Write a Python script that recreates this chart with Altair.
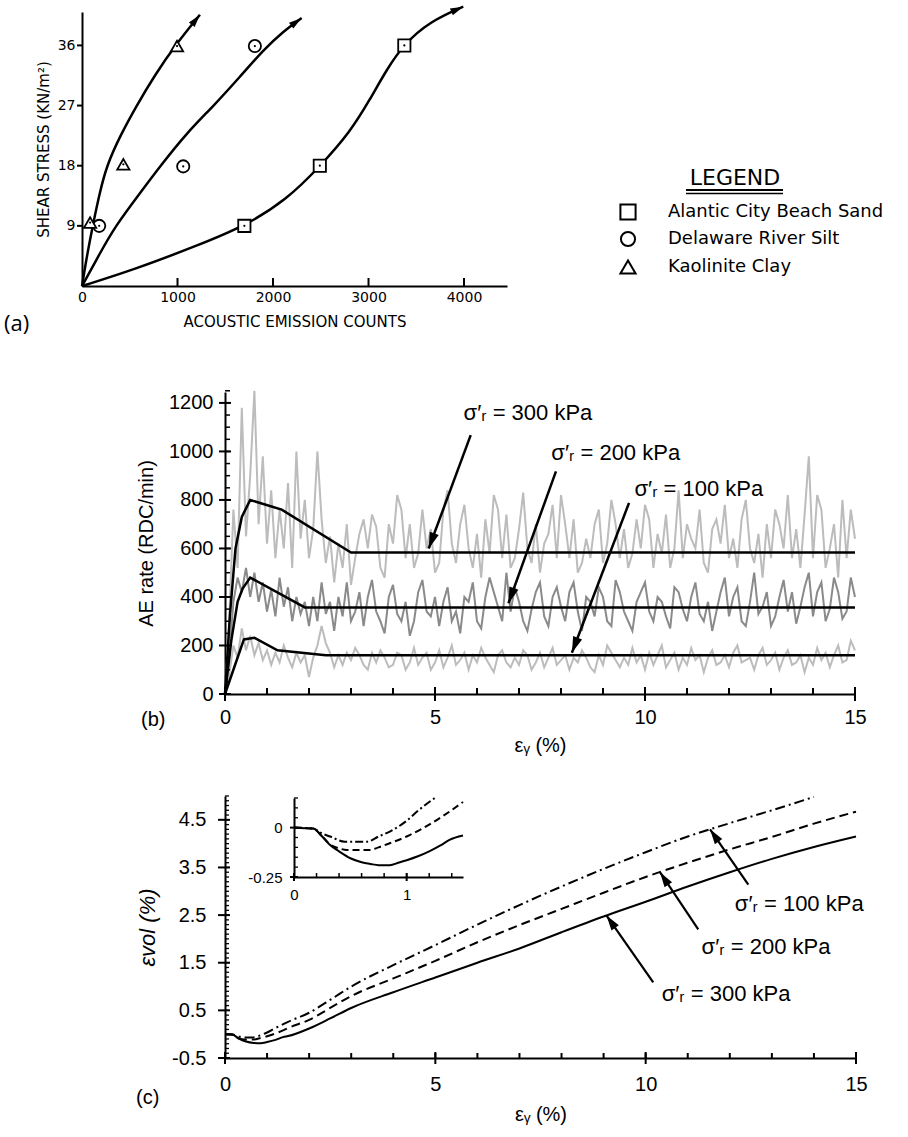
import math
import pandas as pd
import altair as alt

W, H = 908, 1137
FA = "DejaVu Sans"
FB = "Liberation Sans, Arial, Helvetica, sans-serif"

# ---------------- Panel (a) data ----------------
soils = ["Alantic City Beach Sand", "Delaware River Silt", "Kaolinite Clay"]
sand_pts_x = [1700, 2490, 3375]
sand_pts_y = [9, 18, 36]
silt_pts_x = [180, 1060, 1810]
silt_pts_y = [9, 17.9, 35.9]
clay_pts_x = [85, 433, 995]
clay_pts_y = [9.5, 18.2, 35.9]

sand_curve_x = [0, 537, 1235, 1707, 2143, 2492, 2806, 3015, 3190, 3372, 3643, 3992]
sand_curve_y = [0, 2.4, 6.2, 9.0, 12.9, 17.9, 23.0, 27.9, 32.4, 36.2, 39.6, 41.8]
silt_curve_x = [0, 188, 346, 607, 817, 1096, 1375, 1654, 1898, 2108, 2300]
silt_curve_y = [0, 4.9, 8.9, 13.9, 17.9, 22.9, 26.9, 31.3, 35.3, 38.1, 40.1]
clay_curve_x = [0, 56, 125, 185, 258, 400, 572, 760, 975, 1235]
clay_curve_y = [0, 4.9, 9.9, 13.9, 18.0, 22.5, 27.0, 31.5, 36.0, 40.6]

a_xticks = [0, 1000, 2000, 3000, 4000]
a_yticks = [9, 18, 27, 36]

# ---------------- Panel (b) data ----------------
b_x = [round(i * 0.1, 1) for i in range(151)]
b_300 = [0, 300, 760, 520, 1180, 650, 900, 1250, 700, 980,
         620, 840, 560, 760, 600, 870, 520, 1000, 640, 800,
         560, 680, 1000, 720, 540, 650, 460, 620, 520, 700,
         450, 560, 660, 720, 600, 740, 690, 520, 480, 700,
         620, 820, 760, 560, 700, 520, 580, 760, 600, 680,
         500, 540, 760, 840, 620, 540, 700, 780, 600, 520,
         660, 480, 720, 580, 820, 760, 560, 740, 520, 560,
         680, 830, 600, 540, 700, 500, 620, 660, 780, 560,
         820, 700, 560, 720, 500, 540, 640, 560, 700, 760,
         540, 620, 800, 700, 560, 680, 520, 580, 720, 600,
         780, 720, 520, 660, 580, 740, 520, 600, 840, 560,
         700, 640, 600, 760, 540, 500, 680, 720, 620, 780,
         560, 640, 520, 720, 800, 600, 540, 660, 480, 700,
         560, 760, 700, 600, 820, 560, 680, 520, 740, 980,
         560, 820, 760, 520, 600, 700, 480, 800, 560, 760,
         640]
b_200 = [0, 150, 380, 480, 420, 520, 400, 500, 380, 460,
         340, 430, 320, 480, 360, 440, 300, 400, 330, 380,
         280, 400, 300, 460, 330, 380, 260, 400, 320, 460,
         300, 340, 420, 280, 400, 470, 340, 300, 250, 400,
         450, 330, 300, 380, 240, 300, 420, 470, 340, 320,
         400, 280, 380, 440, 300, 340, 250, 400, 380, 460,
         300, 270, 400, 480, 420, 360, 300, 500, 340, 440,
         380, 300, 260, 350, 420, 460, 320, 280, 400, 440,
         360, 300, 420, 460, 340, 260, 400, 380, 320, 440,
         400, 300, 280, 470, 420, 340, 300, 260, 380, 420,
         460, 340, 300, 400, 380, 320, 270, 440, 420, 350,
         300, 400, 460, 330, 300, 380, 260, 340, 420, 480,
         320, 400, 440, 300, 280, 380, 500, 330, 360, 420,
         280, 320, 400, 470, 340, 420, 290, 360, 440, 500,
         320, 420, 460, 300, 350, 480, 420, 310, 340, 480,
         400]
b_100 = [0, 80, 200, 150, 270, 180, 240, 160, 210, 140,
         180, 120, 170, 130, 200, 150, 110, 170, 130, 160,
         70, 150, 200, 280, 210, 170, 110, 160, 120, 170,
         140, 190, 160, 120, 100, 170, 130, 180, 150, 110,
         120, 170, 160, 100, 130, 190, 120, 150, 170, 100,
         130, 180, 110, 150, 200, 120, 140, 170, 100, 160,
         130, 190, 150, 120, 90, 160, 180, 130, 110, 150,
         120, 180, 160, 100, 130, 170, 110, 150, 190, 120,
         140, 160, 100, 150, 130, 180, 150, 110, 90, 160,
         120, 200, 170, 140, 110, 150, 120, 190, 130, 160,
         100, 170, 120, 160, 200, 110, 140, 170, 100, 150,
         120, 190, 140, 160, 90, 150, 180, 120, 130, 160,
         110, 170, 200, 130, 140, 150, 100, 160, 190, 120,
         140, 170, 100, 150, 180, 120, 130, 160, 90, 150,
         120, 190, 140, 170, 110, 160, 200, 130, 140, 220,
         180]
fit300_x = [0, 0.12, 0.25, 0.4, 0.6, 1.35, 3.0, 15]
fit300_y = [0, 330, 600, 730, 800, 760, 583, 583]
fit200_x = [0, 0.15, 0.3, 0.42, 0.6, 1.9, 15]
fit200_y = [0, 220, 380, 435, 480, 357, 357]
fit100_x = [0, 0.2, 0.45, 0.7, 1.25, 2.4, 15]
fit100_y = [0, 100, 225, 232, 180, 160, 160]

b_labels = ["σ′ᵣ = 300 kPa", "σ′ᵣ = 200 kPa", "σ′ᵣ = 100 kPa"]
b_lab_x = [5.68, 7.77, 9.75]
b_lab_y = [1160, 995, 844]
b_arr_x0 = [5.85, 7.88, 9.62]
b_arr_y0 = [1067, 918, 788]
b_arr_x1 = [4.85, 6.75, 8.26]
b_arr_y1 = [600, 374, 170]

b_xticks = [0, 5, 10, 15]
b_xminor = list(range(0, 16))
b_yticks = [0, 200, 400, 600, 800, 1000, 1200]
b_yminor = list(range(0, 1251, 50))

# ---------------- Panel (c) data ----------------
c300_x = [0, 0.17, 0.32, 0.5, 0.68, 0.85, 1.0, 1.2, 1.38, 1.5, 2, 2.5, 3, 4, 5, 6, 7, 8, 9, 10, 11, 12, 13, 14, 15]
c300_y = [0, -0.005, -0.088, -0.155, -0.184, -0.19, -0.165, -0.12, -0.062, -0.04, 0.12, 0.33, 0.55, 0.88, 1.19,
          1.5, 1.8, 2.14, 2.47, 2.78, 3.1, 3.4, 3.68, 3.93, 4.15]
c200_x = [0, 0.17, 0.32, 0.47, 0.675, 0.85, 1.0, 1.2, 1.38, 1.5, 2, 2.5, 3, 4, 5, 6, 7, 8, 9, 10, 11, 12, 13, 14, 15]
c200_y = [0, -0.005, -0.085, -0.113, -0.113, -0.079, -0.045, 0.015, 0.081, 0.13, 0.3, 0.55, 0.8, 1.17, 1.54,
          1.93, 2.29, 2.63, 2.97, 3.3, 3.6, 3.88, 4.14, 4.42, 4.67]
c100_x = [0, 0.17, 0.32, 0.45, 0.65, 0.85, 1.0, 1.2, 1.5, 2, 2.5, 3, 4, 5, 6, 7, 8, 9, 10, 11, 12, 13, 14]
c100_y = [0, -0.005, -0.045, -0.071, -0.071, -0.02, 0.035, 0.13, 0.26, 0.45, 0.72, 1.0, 1.45, 1.87, 2.3,
          2.71, 3.1, 3.47, 3.82, 4.15, 4.43, 4.7, 4.98]

c_labels = ["σ′ᵣ = 300 kPa", "σ′ᵣ = 200 kPa", "σ′ᵣ = 100 kPa"]
c_lab_x = [10.38, 11.33, 12.12]
c_lab_y = [0.85, 1.82, 2.74]
c_arr_x0 = [10.18, 11.25, 12.44]
c_arr_y0 = [1.09, 2.2, 3.14]
c_arr_x1 = [9.07, 10.34, 11.53]
c_arr_y1 = [2.49, 3.40, 4.30]

c_xticks = [0, 5, 10, 15]
c_xminor = list(range(0, 16))
c_yticks = [-0.5, 0.5, 1.5, 2.5, 3.5, 4.5]
c_yminor = [round(-0.5 + 0.1 * i, 1) for i in range(56)]

# inset
i300_x = [0, 0.17, 0.25, 0.32, 0.4, 0.5, 0.6, 0.68, 0.75, 0.85, 0.93, 1.0, 1.1, 1.2, 1.3, 1.38, 1.5]
i300_y = [0, -0.005, -0.045, -0.088, -0.12, -0.155, -0.175, -0.184, -0.19, -0.19, -0.177, -0.165, -0.145,
          -0.12, -0.09, -0.062, -0.04]
i200_x = [0, 0.17, 0.25, 0.32, 0.4, 0.47, 0.675, 0.75, 0.85, 1.0, 1.2, 1.38, 1.5]
i200_y = [0, -0.005, -0.045, -0.085, -0.105, -0.113, -0.113, -0.1, -0.079, -0.045, 0.015, 0.081, 0.13]
i100_x = [0, 0.17, 0.25, 0.32, 0.45, 0.65, 0.75, 0.85, 1.0, 1.1, 1.2, 1.25]
i100_y = [0, -0.005, -0.03, -0.045, -0.071, -0.071, -0.045, -0.02, 0.035, 0.085, 0.13, 0.15]
i_xticks = [0, 1]
i_xminor = [0, 0.2, 0.4, 0.6, 0.8, 1.0, 1.2, 1.4]
i_yticks = [-0.25, 0]
i_yminor = [-0.25, -0.2, -0.15, -0.1, -0.05, 0, 0.05, 0.1, 0.15]

# ---------------- layout (pixel boxes of each plot area) ----------------
A_XD, A_XR = [0, 4450], [82, 507]
A_YD, A_YR = [0, 41], [286, 12]
B_XD, B_XR = [0, 15], [225, 855]
B_YD, B_YR = [0, 1245], [694, 392]
C_XD, C_XR = [0, 15], [225, 856]
C_YD, C_YR = [-0.5, 5.0], [1058, 796]
I_XD, I_XR = [0, 1.5], [294, 463]
I_YD, I_YR = [-0.25, 0.15], [877, 798]


def sc(d, r):
    return alt.Scale(domain=d, range=r, nice=False, zero=False)


def inv(p, d, r):
    # pixel -> data value for a linear scale with domain d and range r
    return d[0] + (p - r[0]) / (r[1] - r[0]) * (d[1] - d[0]) + 0.0


def ax(**kw):
    base = dict(grid=False, domainColor="black", tickColor="black", labelColor="black",
                titleColor="black", titleFontWeight="normal", labelFlush=False, labelOverlap=False,
                tickOpacity=0)
    base.update(kw)
    return alt.Axis(**base)


def axis_x(vals, d, r, axis):
    return alt.Chart(pd.DataFrame({"v": vals})).mark_point(opacity=0).encode(
        x=alt.X("v:Q", scale=sc(d, r), axis=axis))


def axis_y(vals, d, r, axis):
    return alt.Chart(pd.DataFrame({"v": vals})).mark_point(opacity=0).encode(
        y=alt.Y("v:Q", scale=sc(d, r), axis=axis))


def XY(xd, xr, yd, yr, xf="x", yf="y"):
    return dict(x=alt.X(f"{xf}:Q", scale=sc(xd, xr), axis=None),
                y=alt.Y(f"{yf}:Q", scale=sc(yd, yr), axis=None))


def tick_rects(vals, box, orient, p_anchor, a, b, w=2):
    """Tick marks as thin filled rectangles straddling an axis line.
    orient 'x': ticks at x=vals from pixel p_anchor+a to p_anchor+b (y pixels).
    orient 'y': ticks at y=vals from pixel p_anchor+a to p_anchor+b (x pixels)."""
    xd, xr, yd, yr = box
    rows = []
    if orient == "x":
        hw = (w / 2) * (xd[1] - xd[0]) / (xr[1] - xr[0])
        ya, yb = inv(p_anchor + a, yd, yr), inv(p_anchor + b, yd, yr)
        for v in vals:
            rows.append({"x0": v - hw, "x1": v + hw, "y0": ya, "y1": yb})
    else:
        hw = (w / 2) * (yd[1] - yd[0]) / abs(yr[1] - yr[0])
        xa, xb = inv(p_anchor + a, xd, xr), inv(p_anchor + b, xd, xr)
        for v in vals:
            rows.append({"x0": xa, "x1": xb, "y0": v - hw, "y1": v + hw})
    return alt.Chart(pd.DataFrame(rows)).mark_rect(color="black", opacity=1).encode(
        x2="x1:Q", y2="y1:Q", **XY(*box, xf="x0", yf="y0"))


def line(xs, ys, box, **mk):
    df = pd.DataFrame({"x": xs, "y": ys, "o": list(range(len(xs)))})
    return alt.Chart(df).mark_line(**mk).encode(order="o:Q", **XY(*box))


def heads(x0, y0, x1, y1, box, length, wr=0.33):
    xd, xr, yd, yr = box
    kx = (xr[1] - xr[0]) / (xd[1] - xd[0])
    ky = (yr[0] - yr[1]) / (yd[1] - yd[0])
    ang = [math.degrees(math.atan2((b - a) * kx, (d - c) * ky)) % 360
           for a, b, c, d in zip(x0, x1, y0, y1)]
    df = pd.DataFrame({"x1": x1, "y1": y1, "ang": ang})
    return alt.Chart(df).mark_point(shape=f"M0,0L{wr},1L-{wr},1Z", size=4 * length ** 2,
                                    filled=True, color="black", opacity=1).encode(
        angle=alt.Angle("ang:Q", scale=None), **XY(*box, xf="x1", yf="y1"))


def arrows(x0, y0, x1, y1, box, length, wr=0.33, sw=2.5):
    df = pd.DataFrame({"x0": x0, "y0": y0, "x1": x1, "y1": y1})
    shaft = alt.Chart(df).mark_rule(color="black", strokeWidth=sw).encode(
        x2="x1:Q", y2="y1:Q", **XY(*box, xf="x0", yf="y0"))
    return [shaft, heads(x0, y0, x1, y1, box, length, wr)]


def text_at(txt, x, y, size, font, align="left", **kw):
    return alt.Chart(pd.DataFrame({"t": [txt]})).mark_text(
        align=align, baseline="middle", fontSize=size, font=font, color="black", **kw).encode(
        x=alt.value(x), y=alt.value(y), text="t:N")


A = (A_XD, A_XR, A_YD, A_YR)
B = (B_XD, B_XR, B_YD, B_YR)
C = (C_XD, C_XR, C_YD, C_YR)
I = (I_XD, I_XR, I_YD, I_YR)

layers = []

# ---------- axes (domain, labels, titles) ----------
layers += [
    axis_x(a_xticks, A_XD, A_XR, ax(orient="bottom", offset=A_YR[0] - H, values=a_xticks, ticks=False,
                                    domainWidth=2, labelFont=FA, labelFontSize=14, labelPadding=4, format="d",
                                    title="ACOUSTIC EMISSION COUNTS", titleFont=FA, titleFontSize=15,
                                    titlePadding=10)),
    axis_y(a_yticks, A_YD, A_YR, ax(orient="left", offset=-A_XR[0], values=a_yticks, tickSize=5,
                                    domainWidth=2, labelFont=FA, labelFontSize=14, labelPadding=2,
                                    title="SHEAR STRESS (KN/m²)", titleFont=FA, titleFontSize=15,
                                    titlePadding=6)),
    axis_x(b_xticks, B_XD, B_XR, ax(orient="bottom", offset=B_YR[0] - H, values=b_xticks, tickSize=7,
                                    domainWidth=2, labelFont=FB, labelFontSize=20, labelPadding=6,
                                    format="d", title="εᵧ (%)", titleFont=FB, titleFontSize=20,
                                    titlePadding=8)),
    axis_y(b_yticks, B_YD, B_YR, ax(orient="left", offset=-B_XR[0], values=b_yticks, tickSize=6,
                                    domainWidth=2, labelFont=FB, labelFontSize=20, labelPadding=6, format="d",
                                    title="AE rate (RDC/min)", titleFont=FB, titleFontSize=20,
                                    titlePadding=12)),
    axis_x(c_xticks, C_XD, C_XR, ax(orient="bottom", offset=C_YR[0] - H, values=c_xticks, tickSize=6,
                                    domainWidth=2, labelFont=FB, labelFontSize=20, labelPadding=10,
                                    format="d", title="εᵧ (%)", titleFont=FB, titleFontSize=20,
                                    titlePadding=10)),
    axis_y(c_yticks, C_YD, C_YR, ax(orient="left", offset=-C_XR[0], values=c_yticks, tickSize=7,
                                    domainWidth=2, labelFont=FB, labelFontSize=20, labelPadding=12,
                                    labelExpr="datum.value < 0 ? '-' + format(-datum.value, '.1f') : format(datum.value, '.1f')",
                                    title="εvol  (%)", titleFont=FB, titleFontSize=22, titleFontStyle="italic",
                                    titlePadding=12)),
    axis_x(i_xticks, I_XD, I_XR, ax(orient="bottom", offset=I_YR[0] - H, values=i_xticks, tickSize=4,
                                    domainWidth=2, labelFont=FB, labelFontSize=15, labelPadding=6,
                                    format="d", title=None)),
    axis_y(i_yticks, I_YD, I_YR, ax(orient="left", offset=-I_XR[0], values=i_yticks, tickSize=4,
                                    domainWidth=2, labelFont=FB, labelFontSize=15, labelPadding=8,
                                    labelExpr="datum.value < 0 ? '-' + format(-datum.value, '.2f') : '0'",
                                    title=None)),
]

# ---------- panel (a) ----------
for cx, cy in [(sand_curve_x, sand_curve_y), (silt_curve_x, silt_curve_y), (clay_curve_x, clay_curve_y)]:
    layers.append(line(cx, cy, A, color="black", strokeWidth=2.5, interpolate="basis"))
    layers.append(heads([cx[-2]], [cy[-2]], [cx[-1]], [cy[-1]], A, length=13, wr=0.28))

pts = pd.DataFrame({
    "x": sand_pts_x + silt_pts_x + clay_pts_x,
    "y": sand_pts_y + silt_pts_y + clay_pts_y,
    "soil": [soils[0]] * 3 + [soils[1]] * 3 + [soils[2]] * 3,
})
shape_scale = alt.Scale(domain=soils, range=["square", "circle", "triangle-up"])
layers.append(alt.Chart(pts).mark_point(filled=True, fill="white", stroke="black", strokeWidth=1.8,
                                        size=150, opacity=1).encode(
    shape=alt.Shape("soil:N", scale=shape_scale, legend=None), **XY(*A)))
layers.append(alt.Chart(pts).mark_circle(size=5, color="black", opacity=1).encode(**XY(*A)))

# hand-drawn legend block (as in the original figure)
layers.append(text_at("LEGEND", 735, 178, 22, FA, align="center"))
layers.append(alt.Chart(pd.DataFrame({"k": [0]})).mark_rule(color="black", strokeWidth=2).encode(
    x=alt.value(686), x2=alt.value(783), y=alt.value(190)))
layers.append(alt.Chart(pd.DataFrame({"k": [0]})).mark_rule(color="black", strokeWidth=1.5).encode(
    x=alt.value(686), x2=alt.value(783), y=alt.value(193.5)))
for name, shp, size, yy in zip(soils, ["square", "circle", "triangle-up"], [230, 200, 230], [212, 239, 267]):
    layers.append(alt.Chart(pd.DataFrame({"soil": [name]})).mark_point(
        shape=shp, size=size, filled=True, fill="white", stroke="black", strokeWidth=2, opacity=1).encode(
        x=alt.value(628), y=alt.value(yy)))
    layers.append(text_at(name, 668, yy, 18, FA))
layers.append(text_at("(a)", 4, 324, 22, "Open Sans"))

# ---------- panel (b) ----------
layers.append(line(b_x, b_300, B, color="#bcbcbc", strokeWidth=2))
layers.append(line(b_x, b_100, B, color="#bcbcbc", strokeWidth=2))
layers.append(line(b_x, b_200, B, color="#8a8a8a", strokeWidth=2))
for fx, fy in [(fit300_x, fit300_y), (fit200_x, fit200_y), (fit100_x, fit100_y)]:
    layers.append(line(fx, fy, B, color="black", strokeWidth=2.5))
layers += arrows(b_arr_x0, b_arr_y0, b_arr_x1, b_arr_y1, B, length=16, wr=0.3, sw=2.5)
blab = pd.DataFrame({"x": b_lab_x, "y": b_lab_y, "t": b_labels})
layers.append(alt.Chart(blab).mark_text(align="left", baseline="middle", fontSize=22, font=FB,
                                        color="black").encode(text="t:N", **XY(*B)))
layers.append(text_at("(b)", 141, 720, 20, FB))

# ---------- panel (c) ----------
layers.append(line(c300_x, c300_y, C, color="black", strokeWidth=2, interpolate="monotone"))
layers.append(line(c200_x, c200_y, C, color="black", strokeWidth=2, strokeDash=[9, 5], interpolate="monotone"))
layers.append(line(c100_x, c100_y, C, color="black", strokeWidth=2, strokeDash=[10, 4, 2, 4],
                   interpolate="monotone"))
layers += arrows(c_arr_x0, c_arr_y0, c_arr_x1, c_arr_y1, C, length=15, wr=0.3, sw=2.2)
clab = pd.DataFrame({"x": c_lab_x, "y": c_lab_y, "t": c_labels})
layers.append(alt.Chart(clab).mark_text(align="left", baseline="middle", fontSize=22, font=FB,
                                        color="black").encode(text="t:N", **XY(*C)))
layers.append(text_at("(c)", 136, 1098, 20, FB))

layers.append(line(i300_x, i300_y, I, color="black", strokeWidth=2, interpolate="monotone"))
layers.append(line(i200_x, i200_y, I, color="black", strokeWidth=2, strokeDash=[7, 4], interpolate="monotone"))
layers.append(line(i100_x, i100_y, I, color="black", strokeWidth=2, strokeDash=[8, 3, 2, 3],
                   interpolate="monotone"))

# ---------- tick marks (thin rectangles on each axis line) ----------
layers += [
    tick_rects(a_xticks[1:], A, "x", A_YR[0], -8, 0),
    tick_rects(a_yticks, A, "y", A_XR[0], -5, 0),
    tick_rects(b_xminor, B, "x", B_YR[0], -6, 0),
    tick_rects(b_xticks, B, "x", B_YR[0], -7, 7),
    tick_rects(b_yminor, B, "y", B_XR[0], 0, 5, w=1.5),
    tick_rects(b_yticks, B, "y", B_XR[0], -6, 6),
    tick_rects(c_xminor, C, "x", C_YR[0], -5, 0),
    tick_rects(c_xticks, C, "x", C_YR[0], -6, 6),
    tick_rects(c_yminor, C, "y", C_XR[0], 0, 4, w=1.3),
    tick_rects(c_yticks, C, "y", C_XR[0], -7, 5),
    tick_rects(i_xminor, I, "x", I_YR[0], -4, 0, w=1.5),
    tick_rects(i_xticks, I, "x", I_YR[0], -4, 4),
    tick_rects(i_yminor, I, "y", I_XR[0], 0, 4, w=1.3),
    tick_rects(i_yticks, I, "y", I_XR[0], -4, 4),
]

chart = alt.layer(*layers).resolve_scale(x="independent", y="independent").properties(
    width=W, height=H, autosize=alt.AutoSizeParams(type="none"), padding=0,
    background="white").configure_view(stroke=None)

chart.save("out.html", embed_options={"renderer": "svg", "actions": False})
